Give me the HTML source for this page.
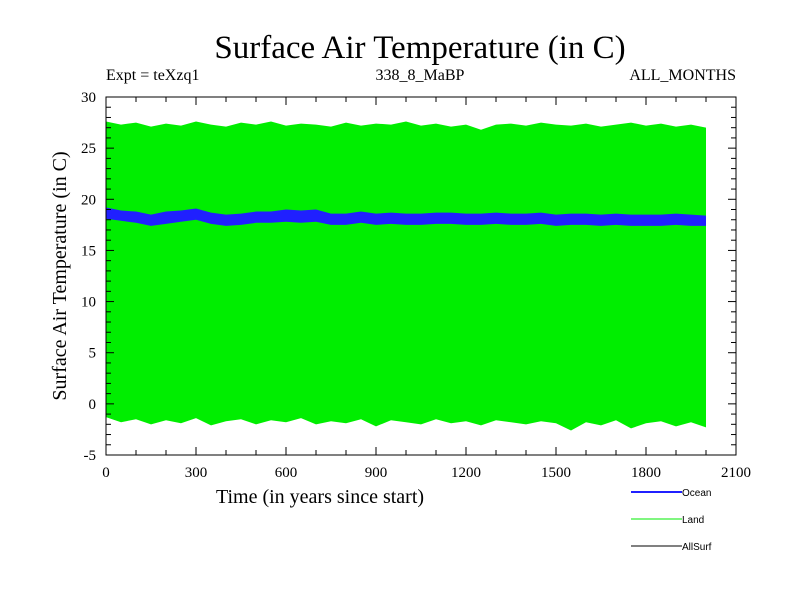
<!DOCTYPE html>
<html><head><meta charset="utf-8">
<style>
body{margin:0;background:#fff;}
svg{display:block;font-family:"Liberation Serif",serif;}
</style></head>
<body>
<svg id="chart" width="800" height="600" viewBox="0 0 800 600">
<text x="420" y="58" font-size="33" text-anchor="middle">Surface Air Temperature (in C)</text>
<text x="106" y="80" font-size="16">Expt = teXzq1</text>
<text x="420" y="80" font-size="16" text-anchor="middle">338_8_MaBP</text>
<text x="736" y="80" font-size="16" text-anchor="end">ALL_MONTHS</text>
<g id="plot"></g>
<g id="axes"></g>
<text x="320" y="503" font-size="20" text-anchor="middle">Time (in years since start)</text>
<text transform="translate(66,276) rotate(-90)" font-size="20" text-anchor="middle">Surface Air Temperature (in C)</text>
<g font-family="Liberation Sans,sans-serif" font-size="10">
<g><line x1="631" y1="492" x2="682" y2="492" stroke="#2020ff" stroke-width="2"/><text x="682" y="496">Ocean</text></g>
<g><line x1="631" y1="519" x2="682" y2="519" stroke="#00ee00" stroke-width="1"/><text x="682" y="523">Land</text></g>
<g><line x1="631" y1="546" x2="682" y2="546" stroke="#000" stroke-width="1"/><text x="682" y="550">AllSurf</text></g>
</g>
</svg>
<script>
const years=[0,50,100,150,200,250,300,350,400,450,500,550,600,650,700,750,800,850,900,950,1000,1050,1100,1150,1200,1250,1300,1350,1400,1450,1500,1550,1600,1650,1700,1750,1800,1850,1900,1950,2000];
const landMax=[27.6,27.3,27.5,27.1,27.4,27.2,27.6,27.3,27.1,27.5,27.3,27.6,27.2,27.4,27.3,27.1,27.5,27.2,27.4,27.3,27.6,27.2,27.4,27.1,27.3,26.8,27.3,27.4,27.2,27.5,27.3,27.2,27.4,27.1,27.3,27.5,27.2,27.4,27.1,27.3,27.0];
const landMin=[-1.3,-1.8,-1.5,-2.0,-1.6,-1.9,-1.4,-2.1,-1.7,-1.5,-2.0,-1.6,-1.8,-1.4,-2.0,-1.7,-1.9,-1.5,-2.2,-1.6,-1.8,-2.0,-1.5,-1.9,-1.7,-2.1,-1.6,-1.8,-2.0,-1.7,-1.9,-2.6,-1.8,-2.1,-1.6,-2.4,-1.9,-1.7,-2.2,-1.8,-2.3];
const oceanHi=[19.2,18.9,18.8,18.5,18.8,18.9,19.1,18.7,18.5,18.6,18.8,18.8,19.0,18.9,19.0,18.6,18.6,18.8,18.6,18.7,18.6,18.6,18.7,18.7,18.6,18.6,18.7,18.6,18.6,18.7,18.5,18.6,18.6,18.5,18.6,18.5,18.5,18.5,18.6,18.5,18.4];
const oceanLo=[18.1,17.9,17.7,17.4,17.6,17.8,18.0,17.6,17.4,17.5,17.7,17.7,17.8,17.7,17.8,17.5,17.5,17.7,17.5,17.6,17.5,17.5,17.6,17.6,17.5,17.5,17.6,17.5,17.5,17.6,17.4,17.5,17.5,17.4,17.5,17.4,17.4,17.4,17.5,17.4,17.4];
const xTicks=[0,300,600,900,1200,1500,1800,2100];
const yTicks=[-5,0,5,10,15,20,25,30];
const L=106,R=736,T=97,B=455;
const sx=v=>L+(v-0)/(2100-0)*(R-L);
const sy=v=>B-(v+5)/35*(B-T);
const NS="http://www.w3.org/2000/svg";
const plot=document.getElementById('plot'),axes=document.getElementById('axes');
function mk(tag,at,parent){const e=document.createElementNS(NS,tag);for(const k in at)e.setAttribute(k,at[k]);parent.appendChild(e);return e;}
let pts=years.map((y,i)=>sx(y)+','+sy(landMax[i]));
for(let i=years.length-1;i>=0;i--)pts.push(sx(years[i])+','+sy(landMin[i]));
const land=mk('polygon',{points:pts.join(' '),fill:'#00ee00'},plot);


let op=years.map((y,i)=>sx(y)+','+sy(oceanHi[i]));
for(let i=years.length-1;i>=0;i--)op.push(sx(years[i])+','+sy(oceanLo[i]));
const ocean=mk('polygon',{points:op.join(' '),fill:'#2020ff'},plot);


mk('rect',{x:L,y:T,width:R-L,height:B-T,fill:'none',stroke:'#000','stroke-width':1},axes);
for(let v=0;v<=2100;v+=100){const x=sx(v),len=v%300===0?8:5;
 mk('line',{x1:x,y1:B,x2:x,y2:B-len,stroke:'#000'},axes);mk('line',{x1:x,y1:T,x2:x,y2:T+len,stroke:'#000'},axes);}
for(let v=-5;v<=30;v++){const y=sy(v),len=v%5===0?8:5;
 mk('line',{x1:L,y1:y,x2:L+len,y2:y,stroke:'#000'},axes);mk('line',{x1:R,y1:y,x2:R-len,y2:y,stroke:'#000'},axes);}
xTicks.forEach(v=>{const t=mk('text',{x:sx(v),y:B+22,'font-size':15,'text-anchor':'middle'},axes);t.textContent=v;
 
 });
yTicks.forEach(v=>{const t=mk('text',{x:L-10,y:sy(v)+5,'font-size':15,'text-anchor':'end'},axes);t.textContent=v;
 
 });
</script>
</body></html>
